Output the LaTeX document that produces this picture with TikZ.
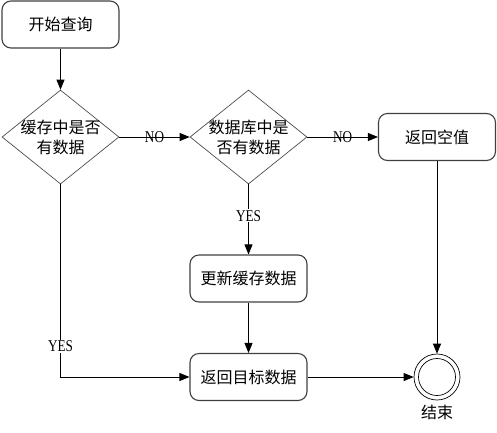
\documentclass[tikz,border=0pt]{standalone}
\usepackage{fontspec}
\newfontfamily\cjk{Noto Sans CJK SC}
\newfontfamily\lblfont[FakeStretch=0.8]{Liberation Serif}
\usetikzlibrary{shapes.geometric,arrows.meta,positioning}
\begin{document}
\begin{tikzpicture}[x=1pt,y=-1pt,
  box/.style={draw=black!75,line width=1.1pt,rounded corners=9pt,minimum width=117pt,minimum height=47pt,inner sep=0pt,font=\cjk\fontsize{16}{20}\selectfont},
  dia/.style={draw=black!70,line width=0.7pt,diamond,minimum width=117pt,minimum height=94pt,inner sep=0pt},
  dtext/.style={align=center,inner sep=0pt,font=\cjk\fontsize{16}{20}\selectfont},
  conn/.style={line width=0.8pt,-{Triangle[length=10pt,width=8pt]}},
  lbl/.style={font=\lblfont\fontsize{16.5}{17}\selectfont,inner sep=1pt},
  endc/.style={circle,draw=black,line width=0.7pt,inner sep=0pt}]
\useasboundingbox (0,0) rectangle (497,432);
\node[box] (start) at (60.5,24.5) {开始查询};
\node[dia] (d1) at (60.5,137) {};
\node[dtext] (d1t) at (60.5,137) {缓存中是否\\有数据};
\node[dia] (d2) at (248.5,137) {};
\node[dtext] (d2t) at (248.5,137) {数据库中是\\否有数据};
\node[box] (null) at (437,137) {返回空值};
\node[box] (upd) at (248.5,278.5) {更新缓存数据};
\node[box] (ret) at (248.5,377) {返回目标数据};
\node[endc,minimum size=46pt] (end) at (437,377) {};
\node[endc,minimum size=37pt] (endi) at (437,377) {};
\node[font=\cjk\fontsize{16}{20}\selectfont,inner sep=0pt] (endt) at (437,412) {结束};
\coordinate (corner) at (60.5,377);

\draw[conn] (start) -- (d1);
\draw[conn] (d1) -- node[lbl] (no1) {NO} (d2);
\draw[conn] (d2) -- node[lbl] (no2) {NO} (null);
\draw[conn] (d2) -- node[lbl,fill=white,pos=0.45] (yes2) {YES} (upd);
\draw[conn] (upd) -- (ret);
\draw[conn] (d1.south) -- node[lbl,fill=white,pos=0.84] (yes1) {YES} (corner) -- (ret);
\draw[conn] (ret) -- (end);
\draw[conn] (null) -- (end);
\end{tikzpicture}
\end{document}
